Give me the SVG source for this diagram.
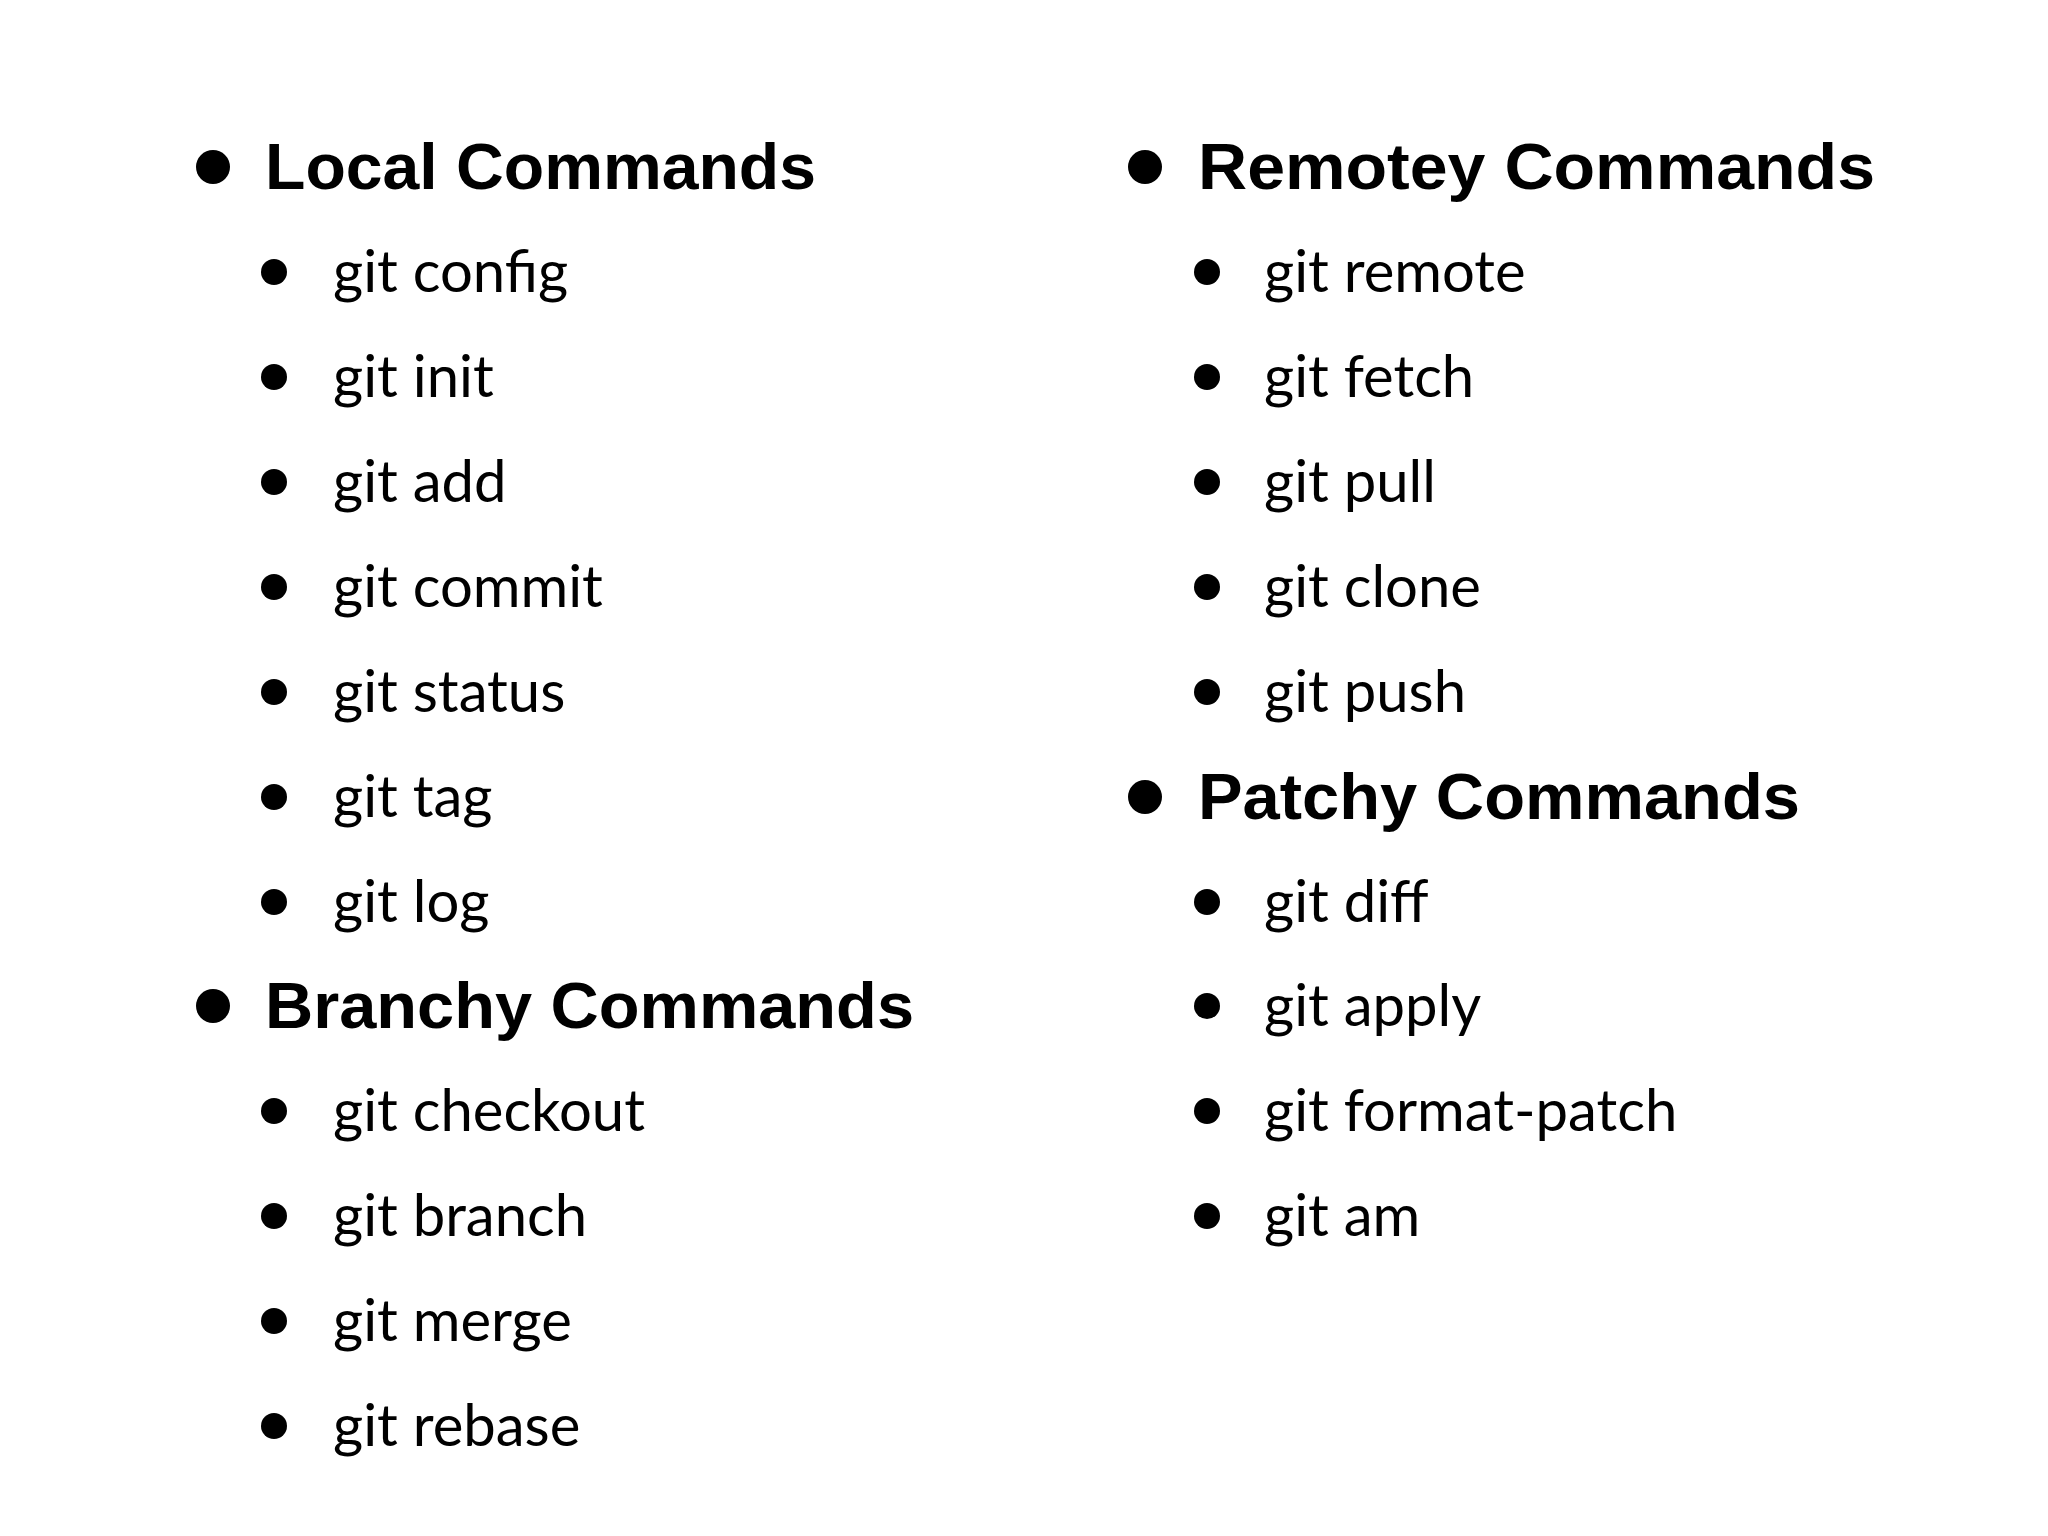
<svg xmlns="http://www.w3.org/2000/svg" width="2048" height="1536" viewBox="0 0 2048 1536">
<style>
.h{font-family:"Liberation Sans",Arial,sans-serif;font-weight:bold;font-size:64px;fill:#000}
.i{font-family:Lato,"Liberation Sans",sans-serif;font-size:58px;fill:#000}
</style>
<rect width="2048" height="1536" fill="#fff"/>
<g id="left">
<g id="local"><circle cx="213" cy="167" r="17"/><text class="h" x="265" y="189" textLength="551" lengthAdjust="spacingAndGlyphs">Local Commands</text></g>
<g id="config"><circle cx="274" cy="272" r="13"/><text class="i" x="333" y="292">git config</text></g>
<g id="init"><circle cx="274" cy="377" r="13"/><text class="i" x="333" y="397">git init</text></g>
<g id="add"><circle cx="274" cy="482" r="13"/><text class="i" x="333" y="502">git add</text></g>
<g id="commit"><circle cx="274" cy="587" r="13"/><text class="i" x="333" y="607">git commit</text></g>
<g id="status"><circle cx="274" cy="692" r="13"/><text class="i" x="333" y="712">git status</text></g>
<g id="tag"><circle cx="274" cy="797" r="13"/><text class="i" x="333" y="817">git tag</text></g>
<g id="log"><circle cx="274" cy="902" r="13"/><text class="i" x="333" y="922">git log</text></g>
<g id="branchy"><circle cx="213" cy="1006" r="17"/><text class="h" x="265" y="1028" textLength="649" lengthAdjust="spacingAndGlyphs">Branchy Commands</text></g>
<g id="checkout"><circle cx="274" cy="1111" r="13"/><text class="i" x="333" y="1131">git checkout</text></g>
<g id="branch"><circle cx="274" cy="1216" r="13"/><text class="i" x="333" y="1236">git branch</text></g>
<g id="merge"><circle cx="274" cy="1321" r="13"/><text class="i" x="333" y="1341">git merge</text></g>
<g id="rebase"><circle cx="274" cy="1426" r="13"/><text class="i" x="333" y="1446">git rebase</text></g>
</g>
<g id="right">
<g id="remotey"><circle cx="1145" cy="167" r="17"/><text class="h" x="1198" y="189" textLength="677" lengthAdjust="spacingAndGlyphs">Remotey Commands</text></g>
<g id="remote"><circle cx="1207" cy="272" r="13"/><text class="i" x="1264" y="292">git remote</text></g>
<g id="fetch"><circle cx="1207" cy="377" r="13"/><text class="i" x="1264" y="397">git fetch</text></g>
<g id="pull"><circle cx="1207" cy="482" r="13"/><text class="i" x="1264" y="502">git pull</text></g>
<g id="clone"><circle cx="1207" cy="587" r="13"/><text class="i" x="1264" y="607">git clone</text></g>
<g id="push"><circle cx="1207" cy="692" r="13"/><text class="i" x="1264" y="712">git push</text></g>
<g id="patchy"><circle cx="1145" cy="797" r="17"/><text class="h" x="1198" y="819" textLength="602" lengthAdjust="spacingAndGlyphs">Patchy Commands</text></g>
<g id="diff"><circle cx="1207" cy="902" r="13"/><text class="i" x="1264" y="922">git diff</text></g>
<g id="apply"><circle cx="1207" cy="1006" r="13"/><text class="i" x="1264" y="1026">git apply</text></g>
<g id="formatpatch"><circle cx="1207" cy="1111" r="13"/><text class="i" x="1264" y="1131">git format-patch</text></g>
<g id="am"><circle cx="1207" cy="1216" r="13"/><text class="i" x="1264" y="1236">git am</text></g>
</g>
<g id="connectors"/>
</svg>
